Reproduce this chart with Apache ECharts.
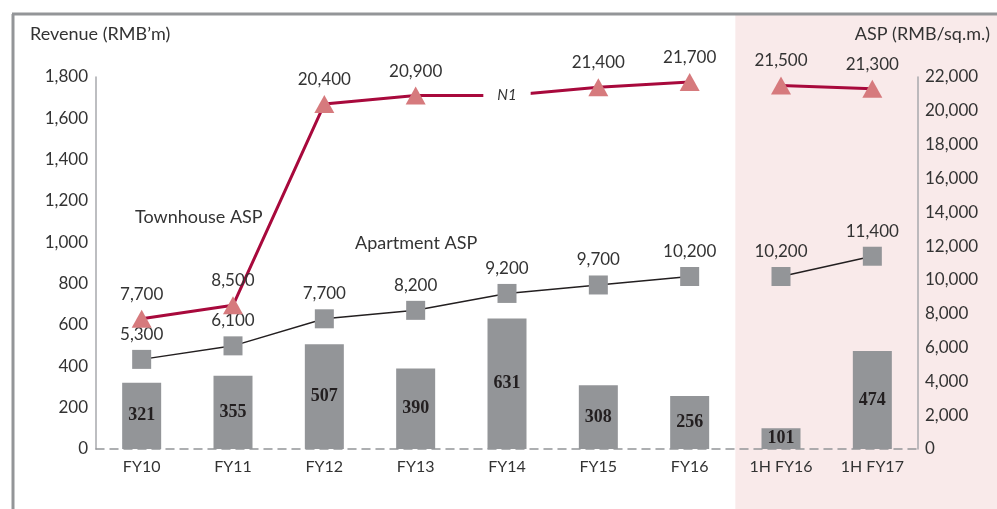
<!DOCTYPE html>
<html>
<head>
<meta charset="utf-8">
<script src="https://cdn.jsdelivr.net/npm/echarts@6/dist/echarts.min.js"></script>
<style>
  html, body { margin: 0; padding: 0; background: #fff; }
  #main { width: 997px; height: 509px; }
</style>
</head>
<body>
<div id="main"></div>
<script>
var categories = ['FY10', 'FY11', 'FY12', 'FY13', 'FY14', 'FY15', 'FY16', '1H FY16', '1H FY17'];
var revenue = [321, 355, 507, 390, 631, 308, 256, 101, 474];
// townhouse ASP, split where the line breaks ('-' = no point)
var townhouseFull = [7700, 8500, 20400, 20900, 20900, 21400, 21700, '-', '-'];
var townhouseHalf = ['-', '-', '-', '-', '-', '-', '-', 21500, 21300];
var apartmentFull = [5300, 6100, 7700, 8200, 9200, 9700, 10200, '-', '-'];
var apartmentHalf = ['-', '-', '-', '-', '-', '-', '-', 10200, 11400];
var noteIndex = 4; // FY14 townhouse has no figure, only note "N1"

var font = 'Lato, "Open Sans", sans-serif';
var textColor = '#333';
var grey = '#939598';
var crimson = '#a8093c';
var salmon = '#d67a7d';

var dom = document.getElementById('main');
var myChart = echarts.init(dom);

function fmt(v) {
    return echarts.format.addCommas(v);
}

var lineLabel = {
    show: true,
    position: 'top',
    distance: 7,
    color: textColor,
    fontFamily: font,
    fontSize: 17,
    formatter: function (p) { return fmt(p.value); }
};

var townData = townhouseFull.map(function (v, i) {
    if (i === noteIndex) {
        return {
            value: v,
            symbol: 'circle',
            symbolSize: 1,
            itemStyle: { color: 'rgba(0,0,0,0)' },
            label: {
                show: true,
                position: 'inside',
                formatter: 'N1',
                color: textColor,
                fontStyle: 'italic',
                fontSize: 15,
                backgroundColor: '#fff',
                padding: [3, 14]
            }
        };
    }
    return v;
});

var option = {
    animation: false,
    textStyle: { fontFamily: font },
    grid: { left: 96, right: 79, top: 77, bottom: 60 },
    graphic: [
        { type: 'line', z: 10, shape: { x1: 12, y1: 14, x2: 997, y2: 14 }, style: { stroke: grey, lineWidth: 3 } },
        { type: 'line', z: 10, shape: { x1: 13, y1: 14, x2: 13, y2: 509 }, style: { stroke: grey, lineWidth: 3 } },
        { type: 'text', left: 30, top: 25, style: { text: 'Revenue (RMB\u2019m)', font: '18px ' + font, fill: textColor } },
        { type: 'text', right: 7, top: 25, style: { text: 'ASP (RMB/sq.m.)', font: '18px ' + font, fill: textColor } },
        { type: 'text', left: 135, top: 208, style: { text: 'Townhouse ASP', font: '18px ' + font, fill: textColor } },
        { type: 'text', left: 355, top: 234, style: { text: 'Apartment ASP', font: '18px ' + font, fill: textColor } }
    ],
    xAxis: {
        type: 'category',
        data: categories,
        axisLine: { lineStyle: { color: grey, type: [8, 6], width: 1.5 } },
        axisTick: { show: false },
        axisLabel: { color: textColor, fontSize: 16, margin: 10 }
    },
    yAxis: [
        {
            type: 'value',
            min: 0, max: 1800, interval: 200,
            axisLine: { show: true, lineStyle: { color: '#a7a9ac', width: 1.5 } },
            axisTick: { show: false },
            splitLine: { show: false },
            axisLabel: { color: textColor, fontSize: 17, margin: 8, formatter: fmt }
        },
        {
            type: 'value',
            min: 0, max: 22000, interval: 2000,
            axisLine: { show: true, lineStyle: { color: '#a7a9ac', width: 1.5 } },
            axisTick: { show: false },
            splitLine: { show: false },
            axisLabel: { color: textColor, fontSize: 17, margin: 7, formatter: fmt }
        }
    ],
    series: [
        {
            name: 'Revenue',
            type: 'bar',
            data: revenue,
            barWidth: 39,
            itemStyle: { color: grey },
            label: {
                show: true,
                position: 'inside',
                color: '#231f20',
                fontFamily: '"Liberation Serif", serif',
                fontWeight: 'bold',
                fontSize: 18
            },
            z: 2
        },
        {
            name: 'Apartment ASP',
            type: 'line',
            yAxisIndex: 1,
            data: apartmentFull,
            symbol: 'rect',
            symbolSize: 19,
            itemStyle: { color: grey },
            lineStyle: { color: '#231f20', width: 1.5 },
            label: lineLabel,
            z: 3
        },
        {
            name: 'Apartment ASP 1H',
            type: 'line',
            yAxisIndex: 1,
            data: apartmentHalf,
            symbol: 'rect',
            symbolSize: 19,
            itemStyle: { color: grey },
            lineStyle: { color: '#231f20', width: 1.5 },
            label: lineLabel,
            z: 3
        },
        {
            name: 'Townhouse ASP',
            type: 'line',
            yAxisIndex: 1,
            data: townData,
            symbol: 'triangle',
            symbolSize: [20, 18],
            itemStyle: { color: salmon },
            lineStyle: { color: crimson, width: 3 },
            label: lineLabel,
            z: 4
        },
        {
            name: 'Townhouse ASP 1H',
            type: 'line',
            yAxisIndex: 1,
            data: townhouseHalf,
            symbol: 'triangle',
            symbolSize: [20, 18],
            itemStyle: { color: salmon },
            lineStyle: { color: crimson, width: 3 },
            label: lineLabel,
            z: 4
        }
    ]
};

if (option && typeof option === 'object') {
    myChart.setOption(option, true);
}

// pink shading behind the half-year columns, from the band edge to the right side
var c1 = myChart.convertToPixel({ xAxisIndex: 0 }, categories[6]);
var c2 = myChart.convertToPixel({ xAxisIndex: 0 }, categories[7]);
var shadeLeft = (c1 + c2) / 2;
var gr = option.graphic.slice();
gr.push({
    type: 'rect', z: -10, silent: true,
    shape: { x: shadeLeft, y: 15, width: 997 - shadeLeft, height: 509 },
    style: { fill: '#f9eaea' }
});
myChart.setOption({ graphic: gr });

window.addEventListener('resize', function () {
    myChart.resize();
});
</script>
</body>
</html>
